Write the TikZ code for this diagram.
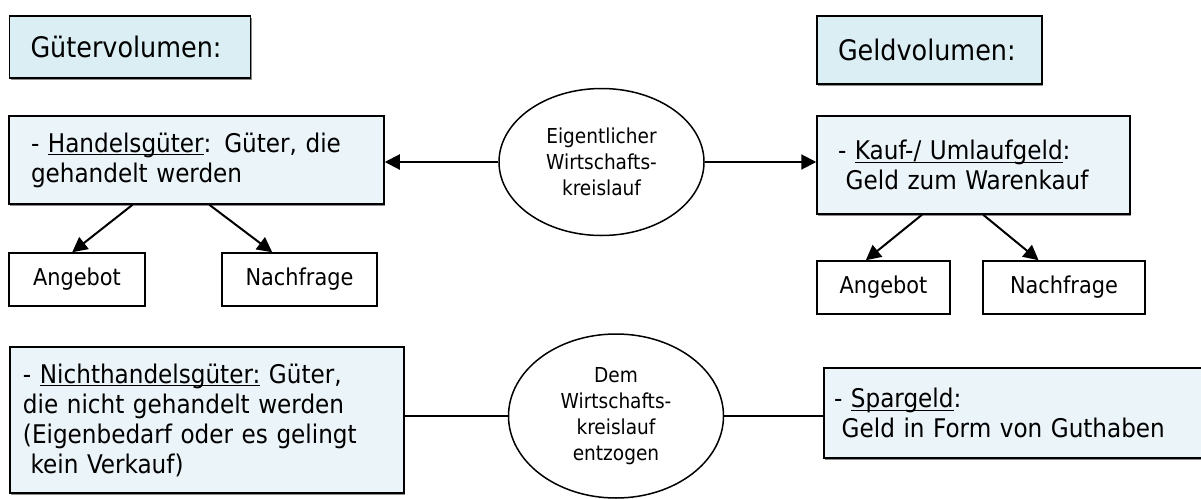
\documentclass[tikz,border=0pt]{standalone}
\usepackage{fontspec}
\setmainfont{DejaVu Sans Condensed}
\usetikzlibrary{arrows.meta,shapes.geometric,shadows}
\definecolor{headfill}{HTML}{DBEEF4}
\definecolor{boxfill}{HTML}{EBF4F8}
\newcommand{\undr}[1]{\setbox0\hbox{#1}\rlap{\rule[-3.4pt]{\wd0}{1.3pt}}\box0\relax}
\tikzset{
  boxshadow/.style={drop shadow={shadow xshift=1.2pt, shadow yshift=-1.5pt, fill=black!45, opacity=1}},
  head/.style={draw, line width=1.5pt, fill=headfill, boxshadow, inner xsep=21pt, inner ysep=0pt,
    align=left, font=\fontsize{28.3}{34}\selectfont},
  textbox/.style={draw, line width=1.5pt, fill=boxfill, boxshadow, inner ysep=0pt,
    align=left, font=\fontsize{25.7}{30}\selectfont},
  leaf/.style={draw, line width=1.5pt, inner sep=0pt, font=\fontsize{23.2}{28}\selectfont},
  flow/.style={draw, ellipse, line width=1.5pt, inner sep=0pt, align=center,
    font=\fontsize{20.6}{26}\selectfont},
  arr/.style={line width=2pt, -{Triangle[length=15pt,width=15pt]}},
}
\begin{document}
\begin{tikzpicture}[x=1pt,y=-1pt]
  \useasboundingbox (0,0) rectangle (1201,498);
  \node[head, minimum width=241pt, minimum height=62pt, text width=199pt] (gueter) at (130,47) {Gütervolumen:};
  \node[head, minimum width=225pt, minimum height=68pt, text width=183pt] (geld) at (929.5,50) {Geldvolumen:};
  \node[textbox, inner xsep=22pt, minimum width=375pt, minimum height=88pt, text width=331pt] (handel) at (196.5,160)
    {- \undr{Handelsgüter}: Güter, die\\gehandelt werden};
  \node[textbox, inner xsep=21pt, minimum width=313pt, minimum height=98pt, text width=271pt] (kauf) at (973.5,165)
    {- \undr{Kauf-/ Umlaufgeld}:\\\hspace*{0.3em}Geld zum Warenkauf};
  \node[flow, minimum width=205pt, minimum height=147pt] (kreis) at (601.5,162)
    {Eigentlicher\\Wirtschafts-\\kreislauf};
  \node[leaf, minimum width=136pt, minimum height=53pt] (angL) at (77,279.5) {Angebot};
  \node[leaf, minimum width=155pt, minimum height=53pt] (nachL) at (299.5,279.5) {Nachfrage};
  \node[leaf, minimum width=133pt, minimum height=53pt] (angR) at (883.5,287.5) {Angebot};
  \node[leaf, minimum width=162pt, minimum height=53pt] (nachR) at (1064,287.5) {Nachfrage};
  \node[textbox, inner xsep=13pt, minimum width=394pt, minimum height=146pt, text width=368pt] (nicht) at (207,420)
    {- \undr{Nichthandelsgüter:} Güter,\\die nicht gehandelt werden\\(Eigenbedarf oder es gelingt\\\hspace*{0.3em}kein Verkauf)};
  \node[flow, minimum width=215pt, minimum height=164pt] (entzug) at (616,416)
    {Dem\\Wirtschafts-\\kreislauf\\entzogen};
  \node[textbox, inner xsep=10pt, minimum width=391pt, minimum height=90pt, text width=371pt] (spar) at (1019.5,413)
    {- \undr{Spargeld}:\\\hspace*{0.3em}Geld in Form von Guthaben};
  \begin{scope}[arr]
    \draw (kreis.west) to (kreis.west -| handel.east);
    \draw (kreis.east) to (kreis.east -| kauf.west);
    \draw (handel.215) to (angL.100);
    \draw (handel.286) to (nachL.135);
    \draw (kauf.224) to (angR.123);
    \draw (kauf.281) to (nachR.133);
  \end{scope}
  \begin{scope}[line width=1.5pt]
    \draw (entzug.west -| nicht.east) to (entzug.west);
    \draw (entzug.east) to (entzug.east -| spar.west);
  \end{scope}
\end{tikzpicture}
\end{document}
